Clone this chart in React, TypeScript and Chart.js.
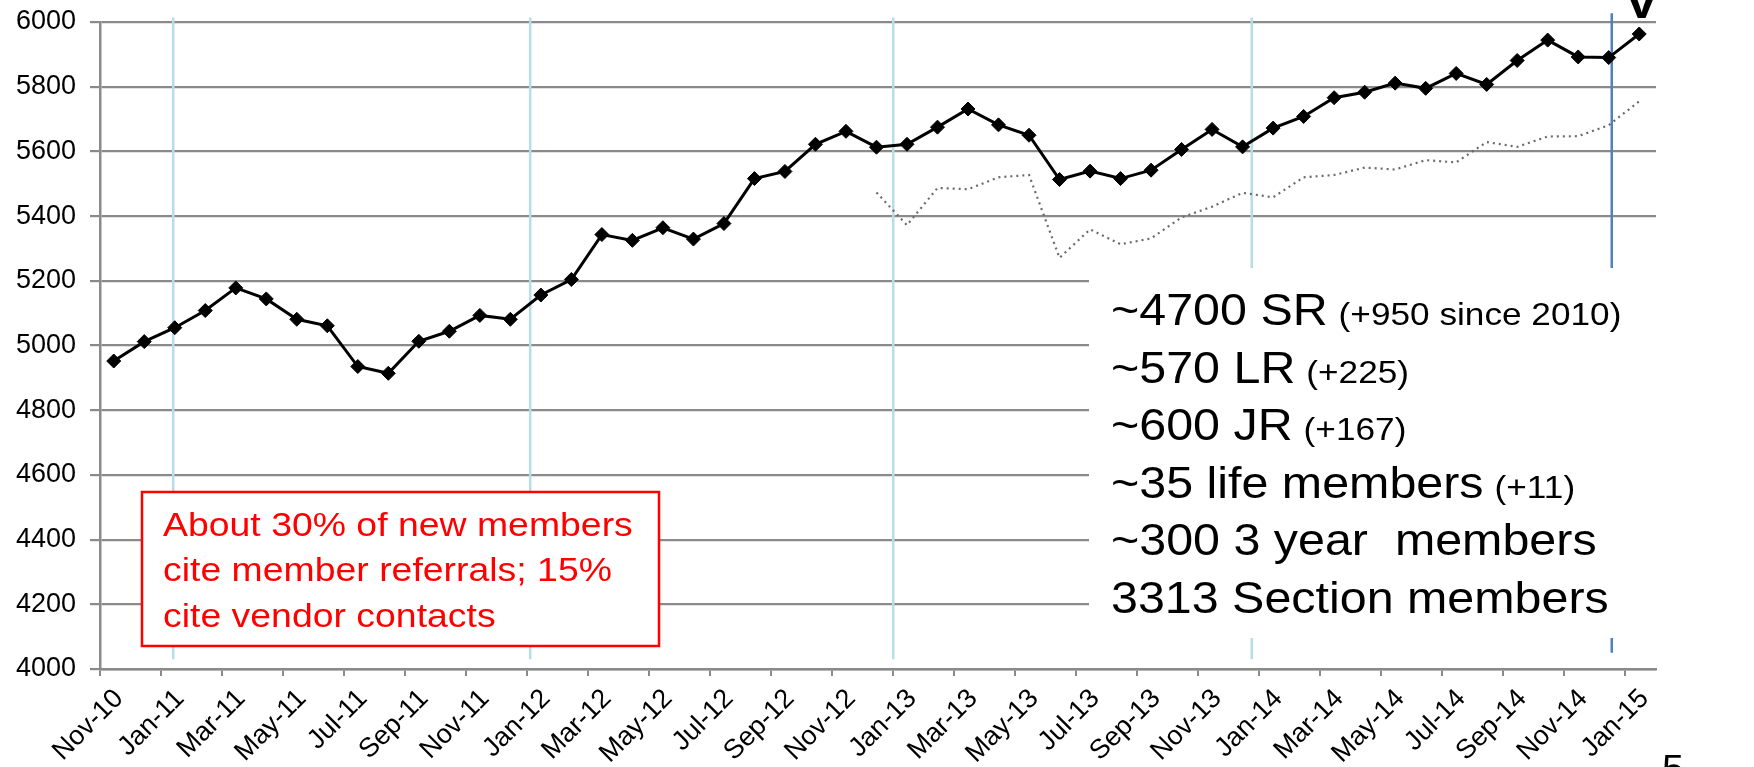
import React, { useEffect, useRef } from 'react';
import { Chart, registerables } from 'chart.js';

Chart.register(...registerables);

// ---- DATA ----
const MONTHS = [
  'Nov-10', 'Dec-10',
  'Jan-11', 'Feb-11', 'Mar-11', 'Apr-11', 'May-11', 'Jun-11', 'Jul-11', 'Aug-11', 'Sep-11', 'Oct-11', 'Nov-11', 'Dec-11',
  'Jan-12', 'Feb-12', 'Mar-12', 'Apr-12', 'May-12', 'Jun-12', 'Jul-12', 'Aug-12', 'Sep-12', 'Oct-12', 'Nov-12', 'Dec-12',
  'Jan-13', 'Feb-13', 'Mar-13', 'Apr-13', 'May-13', 'Jun-13', 'Jul-13', 'Aug-13', 'Sep-13', 'Oct-13', 'Nov-13', 'Dec-13',
  'Jan-14', 'Feb-14', 'Mar-14', 'Apr-14', 'May-14', 'Jun-14', 'Jul-14', 'Aug-14', 'Sep-14', 'Oct-14', 'Nov-14', 'Dec-14',
  'Jan-15',
];

// Total membership, one value per month (Nov-10 .. Jan-15)
const MEMBERS = [
  4952, 5012, 5055, 5108, 5178, 5144, 5081, 5061, 4935, 4914,
  5013, 5044, 5093, 5081, 5156, 5204, 5343, 5325, 5364, 5329,
  5377, 5516, 5538, 5622, 5662, 5613, 5622, 5675, 5731, 5682,
  5650, 5513, 5539, 5516, 5542, 5606, 5668, 5614, 5672, 5708,
  5766, 5783, 5811, 5795, 5841, 5807, 5881, 5944, 5892, 5890,
  5963,
];

// Dotted comparison series, starting at Dec-12
const COMPARISON_START = 'Dec-12';
const COMPARISON = [
  5473, 5372, 5487, 5483, 5520, 5527, 5271, 5359, 5313, 5331,
  5396, 5429, 5472, 5458, 5520, 5527, 5550, 5544, 5573, 5566,
  5629, 5614, 5646, 5647, 5681, 5755,
];

// Axis tick labels (every second month, at month start)
const TICK_LABELS = [
  'Nov-10', 'Jan-11', 'Mar-11', 'May-11', 'Jul-11', 'Sep-11', 'Nov-11',
  'Jan-12', 'Mar-12', 'May-12', 'Jul-12', 'Sep-12', 'Nov-12',
  'Jan-13', 'Mar-13', 'May-13', 'Jul-13', 'Sep-13', 'Nov-13',
  'Jan-14', 'Mar-14', 'May-14', 'Jul-14', 'Sep-14', 'Nov-14', 'Jan-15',
];

const Y_MIN = 4000;
const Y_MAX = 6000;
const Y_STEP = 200;

// Year marker lines (in months since Nov-10)
const YEAR_MARKERS = [2.4, 14.1, 26.0, 37.75, 49.55];

const RIGHT_NOTES = [
  ['~4700 SR', '(+950 since 2010)'],
  ['~570 LR', '(+225)'],
  ['~600 JR', '(+167)'],
  ['~35 life members', '(+11)'],
  ['~300 3 year  members', ''],
  ['3313 Section members', ''],
];

const BOX_NOTE = [
  'About 30% of new members',
  'cite member referrals; 15%',
  'cite vendor contacts',
];

// ---- STYLE ----
const FONT = '"Liberation Sans", Arial, Helvetica, sans-serif';
const MID_MONTH = 0.45; // data points are mid-month
const STRETCH = 1.1;
const GRID = '#8a8a8a';

function stretchText(ctx: CanvasRenderingContext2D, text: string, x: number, y: number, font: string, color: string) {
  ctx.save();
  ctx.font = font;
  ctx.fillStyle = color;
  ctx.textBaseline = 'alphabetic';
  ctx.textAlign = 'left';
  ctx.translate(x, y);
  ctx.scale(STRETCH, 1);
  ctx.fillText(text, 0, 0);
  const w = ctx.measureText(text).width * STRETCH;
  ctx.restore();
  return w;
}

const annotations = {
  id: 'annotations',
  beforeDatasetsDraw(chart: any) {
    const { ctx, scales } = chart;
    const x = scales.x;
    const y = scales.y;
    ctx.save();
    YEAR_MARKERS.forEach((m, i) => {
      const last = i === YEAR_MARKERS.length - 1;
      const px = x.getPixelForValue(m);
      ctx.strokeStyle = last ? '#4f81bd' : '#b7dde6';
      ctx.lineWidth = 2.5;
      ctx.beginPath();
      ctx.moveTo(px, y.getPixelForValue(last ? 6027 : 6014));
      ctx.lineTo(px, y.getPixelForValue(last ? 4050 : 4030));
      ctx.stroke();
    });
    ctx.restore();
  },
  afterDraw(chart: any) {
    const { ctx } = chart;
    ctx.save();
    // white panel behind the right notes
    ctx.fillStyle = '#ffffff';
    ctx.fillRect(1089, 268, 1754 - 1089, 638 - 268);
    const big = `44px ${FONT}`;
    const small = `32px ${FONT}`;
    RIGHT_NOTES.forEach(([b, s], i) => {
      const base = 325 + i * 57.6;
      const w = stretchText(ctx, b, 1111, base, big, '#000');
      if (s) stretchText(ctx, s, 1111 + w + 11, base, small, '#000');
    });

    // red note box
    ctx.fillStyle = '#ffffff';
    ctx.fillRect(142, 492, 517, 154);
    ctx.strokeStyle = '#ff0000';
    ctx.lineWidth = 2.5;
    ctx.strokeRect(142, 492, 517, 154);
    BOX_NOTE.forEach((t, i) => {
      stretchText(ctx, t, 163, 536 + i * 45.3, `34px ${FONT}`, '#ff0000');
    });

    // clipped glyphs at page edges
    stretchText(ctx, 'V', 1624, 18, `bold 48px ${FONT}`, '#000');
    stretchText(ctx, '5', 1662, 781, `36px ${FONT}`, '#000');
    ctx.restore();
  },
};

export default function App() {
  const ref = useRef<HTMLCanvasElement | null>(null);

  useEffect(() => {
    if (!ref.current) return;
    const startIdx = MONTHS.indexOf(COMPARISON_START);
    const chart = new Chart(ref.current, {
      type: 'line',
      data: {
        datasets: [
          {
            label: 'Members',
            data: MEMBERS.map((v, i) => ({ x: i + MID_MONTH, y: v })),
            borderColor: '#000',
            borderWidth: 3,
            pointStyle: 'rectRot',
            pointRadius: 7,
            pointBackgroundColor: '#000',
            pointBorderColor: '#000',
            pointBorderWidth: 1,
            tension: 0,
          },
          {
            label: 'Comparison',
            data: COMPARISON.map((v, i) => ({ x: startIdx + i + MID_MONTH, y: v })),
            borderColor: '#6a6a6a',
            borderWidth: 2.2,
            borderDash: [2, 4],
            pointRadius: 0,
            tension: 0,
          },
        ],
      },
      options: {
        animation: false,
        responsive: true,
        maintainAspectRatio: false,
        devicePixelRatio: 1,
        layout: { padding: { top: 0, right: 98, bottom: 0, left: 0 } },
        plugins: {
          legend: { display: false },
          tooltip: { enabled: false },
        },
        scales: {
          x: {
            type: 'linear',
            min: 0,
            max: MONTHS.length,
            afterBuildTicks: (s: any) => {
              s.ticks = TICK_LABELS.map((_, i) => ({ value: i * 2 }));
            },
            afterFit: (s: any) => {
              s.height = 98;
            },
            ticks: {
              autoSkip: false,
              minRotation: 45,
              maxRotation: 45,
              padding: 7,
              labelOffset: 19,
              color: '#000',
              font: { family: FONT, size: 27 },
              callback: (_v: any, i: number) => TICK_LABELS[i] ?? '',
            },
            grid: {
              drawOnChartArea: false,
              drawTicks: true,
              tickLength: 7,
              color: GRID,
              lineWidth: 2,
            },
            border: { color: GRID, width: 2.5 },
          },
          y: {
            min: Y_MIN,
            max: Y_MAX,
            afterFit: (s: any) => {
              s.width = 100;
              s.paddingTop = 22;
              s.paddingBottom = 0;
            },
            ticks: {
              stepSize: Y_STEP,
              padding: 14,
              color: '#000',
              font: { family: FONT, size: 27 },
              callback: (v: any) => String(v),
            },
            grid: {
              color: GRID,
              lineWidth: 2.2,
              tickLength: 10,
            },
            border: { color: GRID, width: 2.5 },
          },
        },
      },
      plugins: [annotations],
    });
    return () => chart.destroy();
  }, []);

  return (
    <div style={{ position: 'absolute', left: 0, top: 0, width: 1754, height: 767, background: '#fff' }}>
      <canvas ref={ref} />
    </div>
  );
}
